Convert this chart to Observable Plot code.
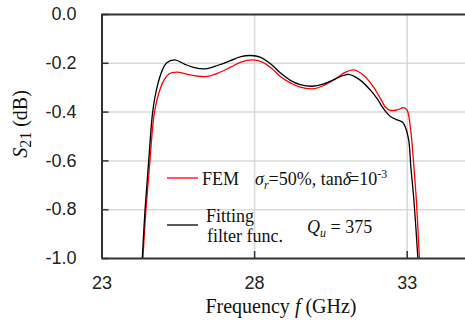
<!DOCTYPE html>
<html><head><meta charset="utf-8">
<script src="https://cdn.jsdelivr.net/npm/d3@7"></script>
<script src="https://cdn.jsdelivr.net/npm/@observablehq/plot@0.6"></script>
<style>body{margin:0;background:#fff}</style>
</head><body><div id="chart"></div>
<script>
// FEM (red) series
const femFreq = [24.34,24.44,24.57,24.72,24.92,25.05,25.2,25.45,25.8,26.1,26.45,26.8,27.21,27.55,27.92,28.25,28.55,28.85,29.2,29.49,29.89,30.25,30.65,30.95,31.25,31.58,31.90,32.13,32.29,32.45,32.67,32.89,33.0,33.11,33.16,33.22,33.30,33.40];
const femS21  = [-1.0,-0.8,-0.6,-0.4,-0.3,-0.265,-0.243,-0.236,-0.245,-0.252,-0.254,-0.24,-0.216,-0.195,-0.186,-0.195,-0.22,-0.255,-0.282,-0.298,-0.305,-0.292,-0.264,-0.238,-0.227,-0.25,-0.298,-0.346,-0.38,-0.393,-0.391,-0.382,-0.393,-0.47,-0.53,-0.626,-0.762,-1.0];
// Fitting filter function (black) series
const fitFreq = [24.32,24.41,24.53,24.66,24.80,24.97,25.12,25.38,25.7,26.0,26.39,26.8,27.21,27.55,27.87,28.2,28.55,28.85,29.2,29.49,29.89,30.25,30.65,30.9,31.12,31.47,31.80,32.02,32.23,32.45,32.67,32.84,32.94,33.05,33.12,33.22,33.35];
const fitS21  = [-1.0,-0.8,-0.6,-0.4,-0.3,-0.23,-0.198,-0.186,-0.203,-0.217,-0.223,-0.208,-0.189,-0.173,-0.168,-0.176,-0.205,-0.24,-0.272,-0.287,-0.294,-0.285,-0.264,-0.25,-0.246,-0.27,-0.311,-0.346,-0.387,-0.418,-0.432,-0.441,-0.462,-0.516,-0.626,-0.762,-1.0];
const xTicks = [23, 28, 33];
const yTicks = [0, -0.2, -0.4, -0.6, -0.8, -1.0];
const yTickLabels = ["0.0", "-0.2", "-0.4", "-0.6", "-0.8", "-1.0"];
const seriesNames = ["FEM", "Fitting filter func."];

const fem = femFreq.map((f, i) => ({f, s: femS21[i]}));
const fit = fitFreq.map((f, i) => ({f, s: fitS21[i]}));
const sans = "'Liberation Sans', Arial, sans-serif";
const serif = "'Liberation Serif', 'Times New Roman', serif";
const axisColor = "#333";

const plot = Plot.plot({
  width: 465, height: 324,
  marginLeft: 101.5, marginRight: 0, marginTop: 14, marginBottom: 66,
  x: {domain: [23, 34.91]},
  y: {domain: [-1, 0]},
  style: {background: "#fff", overflow: "visible"},
  marks: [
    Plot.ruleY(yTicks.filter(v => v > -1 && v < 0), {stroke: "#d9d9d9", strokeWidth: 1.5}),
    Plot.ruleX(xTicks.filter(v => v > 23), {stroke: "#d9d9d9", strokeWidth: 1.5}),
    Plot.line(fem, {x: "f", y: "s", stroke: "#ff0000", strokeWidth: 1.3, curve: "catmull-rom", clip: true}),
    Plot.line(fit, {x: "f", y: "s", stroke: "#000", strokeWidth: 1.3, curve: "catmull-rom", clip: true}),
    Plot.ruleY([0, -1], {stroke: axisColor, strokeWidth: 2}),
    Plot.ruleX([23], {stroke: axisColor, strokeWidth: 2}),
    Plot.axisY(yTicks, {anchor: "left", tickSize: -7, tickPadding: 32.5, stroke: axisColor, strokeWidth: 1.5,
      tickFormat: d => yTickLabels[yTicks.indexOf(d)], fontSize: 18, fontFamily: sans, fill: "#222", label: null}),
    Plot.axisX(xTicks, {anchor: "bottom", tickSize: -7, tickPadding: 25, stroke: axisColor, strokeWidth: 1.5,
      tickFormat: d => String(d), fontSize: 18, fontFamily: sans, fill: "#222", label: null})
  ]
});
document.getElementById("chart").appendChild(plot);

// Annotations, legend, axis titles
const svg = d3.select(plot);
const g = svg.append("g").style("font-family", serif).style("fill", "#111").attr("text-anchor", "start").style("text-anchor", "start");
const txt = (x, y, size) => g.append("text").attr("x", x).attr("y", y).style("font-size", size + "px");

// Y title
const yt = g.append("text").attr("transform", "translate(27,124) rotate(-90)").style("text-anchor", "middle").style("font-size", "20px");
yt.append("tspan").style("font-style", "italic").text("S");
yt.append("tspan").style("font-size", "16px").attr("dy", 4).text("21");
yt.append("tspan").attr("dy", -4).text(" (dB)");

// X title
const xt = g.append("text").attr("x", 281).attr("y", 313).style("text-anchor", "middle").style("font-size", "20px");
xt.append("tspan").text("Frequency ");
xt.append("tspan").style("font-style", "italic").text("f");
xt.append("tspan").text(" (GHz)");

// Legend
g.append("line").attr("x1", 167).attr("x2", 198).attr("y1", 178).attr("y2", 178).attr("stroke", "#ff0000").attr("stroke-width", 1.3);
txt(202, 185, 18).text(seriesNames[0]);
g.append("line").attr("x1", 167).attr("x2", 198).attr("y1", 225).attr("y2", 225).attr("stroke", "#000").attr("stroke-width", 1.3);
const words = seriesNames[1].split(" ");
txt(206, 222, 18).text(words[0]);
txt(207, 242, 18).text(words.slice(1).join(" "));

// Parameter annotation
const p = txt(255, 185, 18);
p.append("tspan").style("font-style", "italic").text("σ");
p.append("tspan").style("font-style", "italic").style("font-size", "12px").attr("dy", 4).text("r");
p.append("tspan").attr("dy", -4).text("=50%, tan");
p.append("tspan").style("font-style", "italic").text("δ");
p.append("tspan").attr("dx", -2).text("=10");
p.append("tspan").style("font-size", "12px").attr("dy", -7).text("-3");

const q = txt(307, 233, 18);
q.append("tspan").style("font-style", "italic").text("Q");
q.append("tspan").style("font-style", "italic").style("font-size", "12px").attr("dy", 4).text("u");
q.append("tspan").attr("dy", -4).text(" = 375");
</script>
</body></html>
